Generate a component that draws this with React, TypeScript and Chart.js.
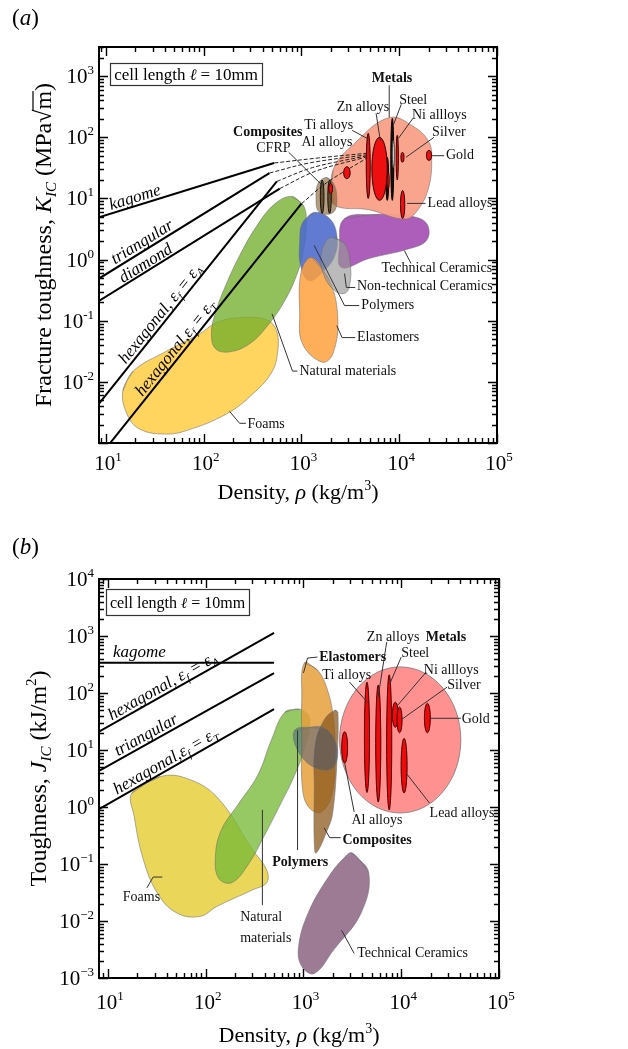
import { useEffect, useRef } from "react";
import { Chart, registerables } from "chart.js";

Chart.register(...registerables);

const SERIF = "'Liberation Serif', 'Times New Roman', Times, serif";
const font = (size: number, style = "") => `${style} ${size}px ${SERIF}`.trim();

// ---------------- axes ----------------
const densityTicks = [10, 100, 1000, 10000, 100000];
const kTicksA = [0.01, 0.1, 1, 10, 100, 1000];
const jTicksB = [0.001, 0.01, 0.1, 1, 10, 100, 1000, 10000];
const densityRangeA = [8.5, 100000];
const kRangeA = [0.001, 3000];
const densityRangeB = [8.1, 100000];
const jRangeB = [0.001, 10000];

// ---------------- (a) lattice lines: [density, K_IC] ----------------
const kagomeA = [[8.5, 4.9], [525, 38]];
const triangularA = [[8.5, 0.49], [470, 26]];
const diamondA = [[8.5, 0.21], [600, 14.5]];
const hexAA = [[8.5, 0.0044], [560, 19]];
const hexTA = [[10.5, 0.0009], [1000, 8.2]];
const dashA1 = [[525, 38], [1500, 46], [4700, 55]];
const dashA2 = [[470, 26], [1200, 38], [4700, 52]];
const dashA3 = [[560, 19], [1300, 32], [4700, 50]];
const dashA4 = [[600, 14.5], [1400, 28], [4700, 48]];
const dashA5 = [[1000, 8.2], [1800, 18], [4700, 46]];

// ---------------- (a) material envelopes ----------------
const metalsA = [[2100, 8.3], [2100, 29], [3500, 80], [7900, 210], [14000, 150], [20000, 85], [21500, 45], [20000, 15], [15500, 6.5], [11500, 4.6], [5000, 6.5]];
const techCeramicsA = [[2760, 4.7], [6300, 5.5], [15100, 4.9], [19600, 3.6], [19000, 2.05], [12600, 1.5], [4900, 1.04], [2570, 0.74], [2450, 1.7]];
const nonTechCeramicsA = [[2100, 2.3], [2760, 1.83], [3160, 0.86], [3100, 0.37], [2760, 0.28], [2190, 0.31], [1700, 0.55], [1590, 1.16], [1800, 2.05]];
const polymersA = [[1025, 4.0], [1350, 5.9], [1940, 4.7], [2300, 2.5], [2190, 1.16], [1700, 0.66], [1200, 0.45], [980, 0.8], [960, 2.05]];
const elastomersA = [[1290, 1.08], [1940, 0.45], [2350, 0.112], [2100, 0.029], [1630, 0.021], [1025, 0.042], [960, 0.13], [1000, 0.66]];
const naturalA = [[791, 10.8], [1047, 7.7], [1120, 4.0], [1047, 1.4], [890, 0.55], [660, 0.2], [450, 0.083], [295, 0.042], [184, 0.031], [132, 0.035], [120, 0.063], [132, 0.135], [167, 0.37], [233, 1.16], [347, 3.5], [527, 8.0]];
const foamsA = [[14.9, 0.0071], [19, 0.015], [42, 0.032], [91, 0.061], [135, 0.093], [233, 0.112], [437, 0.104], [555, 0.069], [570, 0.03], [492, 0.014], [316, 0.0063], [172, 0.003], [67, 0.0016], [40, 0.0014], [22, 0.0017], [16.4, 0.003]];
const compositesA = [[1800, 22], [2130, 17.6], [2300, 10.4], [2190, 6.3], [1800, 5.5], [1480, 6.3], [1410, 10.4], [1480, 17.6]];

// (a) individual materials as ellipses: [densityLo, densityHi, KLo, KHi]
const redEllipsesA = [
  [4600, 5050, 10, 116], // Ti alloys
  [5250, 7550, 9.3, 100], // Zn alloys
  [2700, 3150, 21, 33], // Al alloys
  [7500, 7900, 14, 27],
  [9300, 9800, 20, 108], // Ni alloys
  [10400, 11200, 39, 57], // Silver
  [19000, 21400, 42, 61], // Gold
  [10300, 11400, 4.7, 13.5], // Lead alloys
  [1900, 2080, 12, 17.6], // CFRP
];
const darkEllipsesA = [
  [8200, 8800, 9.3, 204], // Steel
  [7300, 7800, 9.3, 47],
];
const whiteEllipsesA = [[8500, 8900, 32, 89]];
const brownEllipsesA = [[1560, 1700, 5.7, 20], [1860, 2020, 5.7, 20]];

// ---------------- (b) lattice lines: [density, J_IC] ----------------
const kagomeB = [[8.1, 340], [500, 340]];
const hexAB = [[8.1, 21], [500, 1130]];
const triangularB = [[8.1, 4.3], [500, 224]];
const hexTB = [[8.1, 0.92], [500, 52]];

// ---------------- (b) material envelopes ----------------
const foamsB = [[17.6, 1.76], [34, 3.4], [63, 3.2], [130, 1.5], [300, 0.18], [420, 0.079], [420, 0.047], [300, 0.035], [130, 0.018], [87, 0.012], [50, 0.014], [32, 0.031], [23, 0.12], [18.5, 0.7]];
const naturalB = [[645, 46], [910, 52], [1150, 36], [1050, 12.3], [810, 3.6], [575, 1.08], [400, 0.32], [270, 0.096], [184, 0.047], [135, 0.057], [126, 0.144], [145, 0.4], [212, 1.08], [340, 3.6], [470, 15]];
const elastomersB = [[1020, 337], [1390, 253], [1760, 113], [2030, 34], [2100, 6.7], [1940, 1.62], [1520, 0.82], [1150, 0.96], [980, 2.0], [960, 15], [960, 75]];
const compositesB = [[2100, 50], [2250, 45], [2200, 6.7], [1990, 0.785], [1760, 0.4], [1350, 0.156], [1290, 0.23], [1290, 2.0], [1320, 12.3], [1630, 34]];
const polymersB = [[810, 22], [1620, 24.4], [2230, 10], [1860, 4.5], [1020, 6.7]];
const techCeramicsB = [[3160, 0.156], [4650, 0.07], [3900, 0.014], [2030, 0.0031], [1290, 0.0012], [960, 0.0016], [890, 0.0035], [1120, 0.014], [1800, 0.059], [2620, 0.13]];
const metalsB = [[2340, 40700, 0.785, 287]];
const redEllipsesB = [
  [2460, 2830, 5.9, 21], // Al alloys
  [4200, 4740, 1.8, 155], // Ti alloys
  [5480, 6180, 1.22, 138], // Zn alloys
  [7090, 8000, 0.89, 208], // Steel
  [8110, 9330, 25, 69], // Ni alloys
  [9050, 10200, 20, 57], // Silver
  [9970, 11480, 1.76, 16], // Lead alloys
  [17240, 19850, 20, 66], // Gold
];

// ---------------- annotations ----------------
const labelsA = [
  { text: "Metals", at: [5250, 930], bold: true },
  { text: "Zn alloys", at: [2300, 310] },
  { text: "Steel", at: [10000, 405] },
  { text: "Ni allloys", at: [13500, 230] },
  { text: "Silver", at: [21700, 120] },
  { text: "Gold", at: [30000, 50] },
  { text: "Lead alloys", at: [19500, 8.3] },
  { text: "Ti alloys", at: [1070, 158] },
  { text: "Al alloys", at: [1000, 83] },
  { text: "Composites", at: [200, 120], bold: true },
  { text: "CFRP", at: [345, 66] },
  { text: "Technical Ceramics", at: [6600, 0.71] },
  { text: "Non-technical Ceramics", at: [3700, 0.37] },
  { text: "Polymers", at: [4100, 0.177] },
  { text: "Elastomers", at: [3700, 0.053] },
  { text: "Natural materials", at: [955, 0.015] },
  { text: "Foams", at: [280, 0.002] },
];
const leadersA = [
  [[7900, 710], [7900, 213]],
  [[5800, 247], [6400, 89]],
  [[10500, 347], [8700, 158]],
  [[13800, 204], [9800, 96]],
  [[22700, 100], [11700, 47]],
  [[21700, 50], [28800, 50]],
  [[12000, 8.3], [18600, 8.3]],
  [[3300, 130], [4700, 96]],
  [[740, 57], [1630, 16.4]],
  [[11300, 1.4], [13200, 0.86]],
  [[2760, 0.59], [2880, 0.35], [3550, 0.35]],
  [[1350, 1.7], [2760, 0.177], [3900, 0.177]],
  [[2300, 0.083], [2600, 0.053], [3550, 0.053]],
  [[500, 0.13], [810, 0.015], [910, 0.015]],
  [[184, 0.0033], [233, 0.0021], [270, 0.0021]],
];
const labelsB = [
  { text: "Zn alloys", at: [4450, 960] },
  { text: "Metals", at: [17800, 960], bold: true },
  { text: "Steel", at: [10000, 500] },
  { text: "Ni allloys", at: [17000, 253] },
  { text: "Silver", at: [29500, 138] },
  { text: "Gold", at: [41500, 34] },
  { text: "Ti alloys", at: [1560, 208] },
  { text: "Elastomers", at: [1450, 427], bold: true },
  { text: "Al alloys", at: [3100, 0.59] },
  { text: "Lead alloys", at: [19500, 0.785] },
  { text: "Composites", at: [2500, 0.26], bold: true },
  { text: "Polymers", at: [480, 0.108], bold: true },
  { text: "Natural", at: [225, 0.0117] },
  { text: "materials", at: [225, 0.005] },
  { text: "Foams", at: [14.2, 0.026] },
  { text: "Technical Ceramics", at: [3550, 0.0027] },
];
const leadersB = [
  [[7100, 780], [5800, 85]],
  [[10000, 427], [7700, 150]],
  [[18000, 233], [8900, 57]],
  [[29500, 127], [10000, 34]],
  [[19500, 36], [40700, 36]],
  [[2950, 156], [4500, 69]],
  [[1390, 427], [1100, 410], [1000, 224]],
  [[2640, 5.9], [3300, 0.82]],
  [[11200, 3.95], [19500, 1.17]],
  [[1630, 0.43], [1850, 0.29], [2400, 0.29]],
  [[870, 0.176], [870, 22]],
  [[380, 0.89], [380, 0.019]],
  [[25, 0.038], [29, 0.059], [36, 0.059]],
  [[2450, 0.0069], [3300, 0.0027]],
];

// ---------------- helpers ----------------
type Run = { t: string; f: string; dy?: number; over?: boolean };
const pts = (a: number[][]) => a.map(([x, y]) => ({ x, y }));

function runsWidth(ctx: CanvasRenderingContext2D, runs: Run[]) {
  let w = 0;
  for (const r of runs) {
    ctx.font = r.f;
    w += ctx.measureText(r.t).width;
  }
  return w;
}
function drawRuns(ctx: CanvasRenderingContext2D, runs: Run[], x: number, y: number) {
  let cx = x;
  ctx.textBaseline = "alphabetic";
  ctx.textAlign = "left";
  for (const r of runs) {
    ctx.font = r.f;
    ctx.fillText(r.t, cx, y + (r.dy || 0));
    const w = ctx.measureText(r.t).width;
    if (r.over) {
      ctx.beginPath();
      ctx.lineWidth = 1.2;
      ctx.moveTo(cx - 1, y - 18);
      ctx.lineTo(cx + w, y - 18);
      ctx.stroke();
    }
    cx += w;
  }
}
const it = (s: number) => font(s, "italic");
const rg = (s: number) => font(s);
const hexRuns = (sub: string, comma: string): Run[] => [
  { t: "hexagonal" + comma + "ε", f: it(17) },
  { t: "f", f: it(11), dy: 4 },
  { t: " = ε", f: it(17) },
  { t: sub, f: it(11), dy: 4 },
];

const lineLabelsA = [
  { runs: [{ t: "kagome", f: it(17) }], line: kagomeA, at: 21, off: 9 },
  { runs: [{ t: "triangular", f: it(17) }], line: triangularA, at: 26, off: 9 },
  { runs: [{ t: "diamond", f: it(17) }], line: diamondA, at: 28, off: 8 },
  { runs: hexRuns("A", ", "), line: hexAA, at: 42, off: 9 },
  { runs: hexRuns("T", ","), line: hexTA, at: 60, off: 9 },
];
const lineLabelsB = [
  { runs: [{ t: "kagome", f: it(17) }], line: kagomeB, at: 21, off: 11 },
  { runs: hexRuns("A", ", "), line: hexAB, at: 40, off: 9 },
  { runs: [{ t: "triangular", f: it(17) }], line: triangularB, at: 27, off: 9 },
  { runs: hexRuns("T", ","), line: hexTB, at: 43, off: 9 },
];

const panelA = {
  height: 525,
  padding: { left: 99, right: 131, top: 47, bottom: 82 },
  xRange: densityRangeA,
  yRange: kRangeA,
  yTicks: kTicksA,
  minus: "-",
  tag: "a",
  tagBaseline: 25,
  lines: [kagomeA, triangularA, diamondA, hexAA, hexTA],
  dashes: [dashA1, dashA2, dashA3, dashA4, dashA5],
  // back -> front
  regions: [
    { d: foamsA, c: "rgba(255,203,60,0.82)" },
    { d: naturalA, c: "rgba(115,175,45,0.78)" },
    { d: polymersA, c: "rgba(75,105,205,0.88)" },
    { d: elastomersA, c: "rgba(255,160,60,0.85)" },
    { d: techCeramicsA, c: "rgba(165,80,180,0.92)" },
    { d: nonTechCeramicsA, c: "rgba(150,150,150,0.65)" },
    { d: metalsA, c: "rgba(249,160,135,0.95)" },
    { d: compositesA, c: "rgba(130,90,40,0.6)" },
  ],
  ellipseGroups: [
    { d: brownEllipsesA, fill: "rgba(95,70,35,0.9)", stroke: "#111" },
    { d: darkEllipsesA, fill: "#111", stroke: "#000" },
    { d: whiteEllipsesA, fill: "#fff", stroke: "#444" },
    { d: redEllipsesA, fill: "#ee1010", stroke: "#300" },
  ],
  labels: labelsA,
  leaders: leadersA,
  lineLabels: lineLabelsA,
  box: { dx: 11, dy: 16, w: 152, h: 22, base: 17, size: 17 },
  xTickBase: 27,
  xTitleBase: 56,
  yTitleX: 43,
  yTitle: [
    { t: "Fracture toughness, ", f: rg(24) },
    { t: "K", f: it(24) },
    { t: "IC", f: it(15), dy: 5 },
    { t: " (MPa", f: rg(24) },
    { t: "√", f: rg(24) },
    { t: "m", f: rg(24), over: true },
    { t: ")", f: rg(24) },
  ],
};

const panelB = {
  height: 524,
  padding: { left: 99, right: 129, top: 54, bottom: 71 },
  xRange: densityRangeB,
  yRange: jRangeB,
  yTicks: jTicksB,
  minus: "−",
  tag: "b",
  tagBaseline: 29,
  lines: [kagomeB, hexAB, triangularB, hexTB],
  dashes: [],
  regions: [
    { d: techCeramicsB, c: "rgba(140,100,130,0.85)" },
    { d: foamsB, c: "rgba(230,208,60,0.85)" },
    { d: naturalB, c: "rgba(120,185,55,0.78)" },
    { d: elastomersB, c: "rgba(230,160,60,0.85)" },
    { d: compositesB, c: "rgba(140,90,30,0.75)" },
    { d: polymersB, c: "rgba(50,80,130,0.45)" },
  ],
  ellipseGroups: [
    { d: metalsB, fill: "rgba(255,130,130,0.88)", stroke: "rgba(120,120,120,0.8)" },
    { d: redEllipsesB, fill: "#ee0a0a", stroke: "#400" },
  ],
  labels: labelsB,
  leaders: leadersB,
  lineLabels: lineLabelsB,
  box: { dx: 7, dy: 10, w: 143, h: 26, base: 19, size: 16 },
  xTickBase: 31,
  xTitleBase: 64,
  yTitleX: 38,
  yTitle: [
    { t: "Toughness, ", f: rg(24) },
    { t: "J", f: it(24) },
    { t: "IC", f: it(15), dy: 5 },
    { t: " (kJ/m", f: rg(24) },
    { t: "2", f: rg(15), dy: -10 },
    { t: ")", f: rg(24) },
  ],
};

const xTitleRuns: Run[] = [
  { t: "Density, ", f: rg(22) },
  { t: "ρ", f: it(22) },
  { t: " (kg/m", f: rg(22) },
  { t: "3", f: rg(14), dy: -9 },
  { t: ")", f: rg(22) },
];

function drawPow(ctx: CanvasRenderingContext2D, v: number, x: number, y: number, align: string, minus: string) {
  const e = Math.round(Math.log10(v));
  const es = e < 0 ? minus + Math.abs(e) : String(e);
  ctx.font = rg(21);
  const w1 = ctx.measureText("10").width;
  ctx.font = rg(13);
  const w2 = ctx.measureText(es).width;
  const x0 = align === "center" ? x - (w1 + w2) / 2 : x - (w1 + w2);
  ctx.textAlign = "left";
  ctx.textBaseline = "alphabetic";
  ctx.font = rg(21);
  ctx.fillText("10", x0, y);
  ctx.font = rg(13);
  ctx.fillText(es, x0 + w1, y - 9);
}

function makeDecor(cfg: any) {
  return {
    id: "decor" + cfg.tag,
    beforeDatasetDraw(chart: any, args: any) {
      const ds = chart.data.datasets[args.index];
      if (!ds.areaColor) return;
      const line = args.meta.dataset;
      const ctx = chart.ctx;
      const a = chart.chartArea;
      line.updateControlPoints(a, "x");
      ctx.save();
      ctx.beginPath();
      ctx.rect(a.left, a.top, a.right - a.left, a.bottom - a.top);
      ctx.clip();
      ctx.beginPath();
      line.path(ctx);
      ctx.closePath();
      ctx.fillStyle = ds.areaColor;
      ctx.fill();
      ctx.restore();
    },
    afterDatasetsDraw(chart: any) {
      const ctx = chart.ctx;
      const xs = chart.scales.x;
      const ys = chart.scales.y;
      const a = chart.chartArea;
      ctx.save();
      ctx.beginPath();
      ctx.rect(a.left, a.top, a.right - a.left, a.bottom - a.top);
      ctx.clip();
      for (const g of cfg.ellipseGroups) {
        for (const e of g.d) {
          const x1 = xs.getPixelForValue(e[0]);
          const x2 = xs.getPixelForValue(e[1]);
          const y1 = ys.getPixelForValue(e[2]);
          const y2 = ys.getPixelForValue(e[3]);
          ctx.beginPath();
          ctx.ellipse((x1 + x2) / 2, (y1 + y2) / 2, Math.abs(x2 - x1) / 2, Math.abs(y2 - y1) / 2, 0, 0, Math.PI * 2);
          ctx.fillStyle = g.fill;
          ctx.fill();
          ctx.lineWidth = 1;
          ctx.strokeStyle = g.stroke;
          ctx.stroke();
        }
      }
      ctx.restore();
    },
    afterDraw(chart: any) {
      const ctx = chart.ctx;
      const xs = chart.scales.x;
      const ys = chart.scales.y;
      const a = chart.chartArea;
      ctx.save();
      ctx.fillStyle = "#000";
      ctx.strokeStyle = "#000";

      // leaders
      ctx.strokeStyle = "#333";
      ctx.lineWidth = 1;
      for (const l of cfg.leaders) {
        ctx.beginPath();
        l.forEach((p: number[], i: number) => {
          const x = xs.getPixelForValue(p[0]);
          const y = ys.getPixelForValue(p[1]);
          if (i === 0) ctx.moveTo(x, y);
          else ctx.lineTo(x, y);
        });
        ctx.stroke();
      }
      // labels
      ctx.fillStyle = "#111";
      ctx.textBaseline = "middle";
      ctx.textAlign = "left";
      for (const l of cfg.labels) {
        ctx.font = font(14, l.bold ? "bold" : "");
        ctx.fillText(l.text, xs.getPixelForValue(l.at[0]), ys.getPixelForValue(l.at[1]));
      }
      // line labels
      ctx.fillStyle = "#000";
      ctx.strokeStyle = "#000";
      for (const ll of cfg.lineLabels) {
        const p1 = { x: xs.getPixelForValue(ll.line[0][0]), y: ys.getPixelForValue(ll.line[0][1]) };
        const p2 = { x: xs.getPixelForValue(ll.line[1][0]), y: ys.getPixelForValue(ll.line[1][1]) };
        const th = Math.atan2(p2.y - p1.y, p2.x - p1.x);
        const px = xs.getPixelForValue(ll.at);
        const py = p1.y + ((px - p1.x) * (p2.y - p1.y)) / (p2.x - p1.x);
        const cx = px + Math.sin(th) * ll.off;
        const cy = py - Math.cos(th) * ll.off;
        ctx.save();
        ctx.translate(cx, cy);
        ctx.rotate(th);
        const w = runsWidth(ctx, ll.runs);
        drawRuns(ctx, ll.runs, -w / 2, 5.5);
        ctx.restore();
      }

      // cell length box
      const b = cfg.box;
      ctx.fillStyle = "#fff";
      ctx.fillRect(a.left + b.dx, a.top + b.dy, b.w, b.h);
      ctx.strokeStyle = "#333";
      ctx.lineWidth = 1.2;
      ctx.strokeRect(a.left + b.dx + 0.5, a.top + b.dy + 0.5, b.w, b.h);
      ctx.fillStyle = "#000";
      const boxRuns: Run[] = [
        { t: "cell length ", f: rg(b.size) },
        { t: "ℓ", f: it(b.size - 1) },
        { t: " = 10mm", f: rg(b.size) },
      ];
      const bw = runsWidth(ctx, boxRuns);
      drawRuns(ctx, boxRuns, a.left + b.dx + (b.w - bw) / 2, a.top + b.dy + b.base);

      // frame
      ctx.strokeStyle = "#000";
      ctx.lineWidth = 2;
      ctx.strokeRect(a.left, a.top, a.right - a.left, a.bottom - a.top);

      // ticks (inward on all sides)
      ctx.lineWidth = 1.4;
      const [x0, x1] = cfg.xRange;
      const [y0, y1] = cfg.yRange;
      for (let d = Math.floor(Math.log10(x0)); d <= Math.ceil(Math.log10(x1)); d++) {
        for (let k = 1; k <= 9; k++) {
          const v = k * Math.pow(10, d);
          if (v < x0 * 0.999 || v > x1 * 1.001) continue;
          const x = Math.round(xs.getPixelForValue(v)) + 0.5;
          const L = k === 1 ? 9 : 5;
          ctx.beginPath();
          ctx.moveTo(x, a.bottom);
          ctx.lineTo(x, a.bottom - L);
          ctx.moveTo(x, a.top);
          ctx.lineTo(x, a.top + L);
          ctx.stroke();
        }
      }
      for (let d = Math.floor(Math.log10(y0)); d <= Math.ceil(Math.log10(y1)); d++) {
        for (let k = 1; k <= 9; k++) {
          const v = k * Math.pow(10, d);
          if (v < y0 * 0.999 || v > y1 * 1.001) continue;
          const y = Math.round(ys.getPixelForValue(v)) + 0.5;
          const L = k === 1 ? 9 : 5;
          ctx.beginPath();
          ctx.moveTo(a.left, y);
          ctx.lineTo(a.left + L, y);
          ctx.moveTo(a.right, y);
          ctx.lineTo(a.right - L, y);
          ctx.stroke();
        }
      }

      // tick labels
      ctx.fillStyle = "#000";
      for (const v of densityTicks) {
        drawPow(ctx, v, xs.getPixelForValue(v) + 2, a.bottom + cfg.xTickBase, "center", cfg.minus);
      }
      for (const v of cfg.yTicks) {
        drawPow(ctx, v, a.left - 5, ys.getPixelForValue(v) + 7, "right", cfg.minus);
      }

      // axis titles
      const xw = runsWidth(ctx, xTitleRuns);
      drawRuns(ctx, xTitleRuns, (a.left + a.right) / 2 - xw / 2, a.bottom + cfg.xTitleBase);
      ctx.save();
      ctx.translate(cfg.yTitleX, (a.top + a.bottom) / 2);
      ctx.rotate(-Math.PI / 2);
      const yw = runsWidth(ctx, cfg.yTitle);
      drawRuns(ctx, cfg.yTitle, -yw / 2, 8);
      ctx.restore();

      // panel tag
      drawRuns(ctx, [
        { t: "(", f: rg(23) },
        { t: cfg.tag, f: it(23) },
        { t: ")", f: rg(23) },
      ], 12, cfg.tagBaseline);

      ctx.restore();
    },
  };
}

function buildConfig(cfg: any) {
  const datasets: any[] = [];
  let order = 0;
  for (const l of cfg.lines) {
    datasets.push({ data: pts(l), borderColor: "#000", borderWidth: 2, pointRadius: 0, fill: false, tension: 0, order: order++ });
  }
  for (const l of cfg.dashes) {
    datasets.push({ data: pts(l), borderColor: "#222", borderWidth: 1, borderDash: [4, 2], pointRadius: 0, fill: false, tension: 0.35, order: order++ });
  }
  const n = cfg.regions.length;
  cfg.regions.forEach((r: any, i: number) => {
    const d = [...r.d, r.d[0], r.d[1]];
    datasets.push({
      data: pts(d),
      borderColor: "rgba(110,110,110,0.55)",
      borderWidth: 1,
      pointRadius: 0,
      fill: false,
      tension: 0.4,
      areaColor: r.c,
      order: 100 + (n - i),
    });
  });
  return {
    type: "line",
    data: { datasets },
    options: {
      responsive: false,
      animation: false,
      devicePixelRatio: 1,
      events: [],
      layout: { padding: cfg.padding },
      scales: {
        x: { type: "logarithmic", min: cfg.xRange[0], max: cfg.xRange[1], display: false },
        y: { type: "logarithmic", min: cfg.yRange[0], max: cfg.yRange[1], display: false },
      },
      plugins: { legend: { display: false }, tooltip: { enabled: false } },
    },
    plugins: [makeDecor(cfg)],
  };
}

function Panel({ cfg }: { cfg: any }) {
  const ref = useRef<HTMLCanvasElement>(null);
  useEffect(() => {
    const chart = new Chart(ref.current as HTMLCanvasElement, buildConfig(cfg) as any);
    return () => chart.destroy();
  }, [cfg]);
  return (
    <div style={{ width: 628, height: cfg.height }}>
      <canvas ref={ref} width={628} height={cfg.height} style={{ display: "block", width: 628, height: cfg.height }} />
    </div>
  );
}

export default function App() {
  useEffect(() => {
    document.body.style.margin = "0";
    document.body.style.background = "#fff";
  }, []);
  return (
    <div style={{ width: 628, height: 1049, background: "#fff", overflow: "hidden" }}>
      <Panel cfg={panelA} />
      <Panel cfg={panelB} />
    </div>
  );
}
